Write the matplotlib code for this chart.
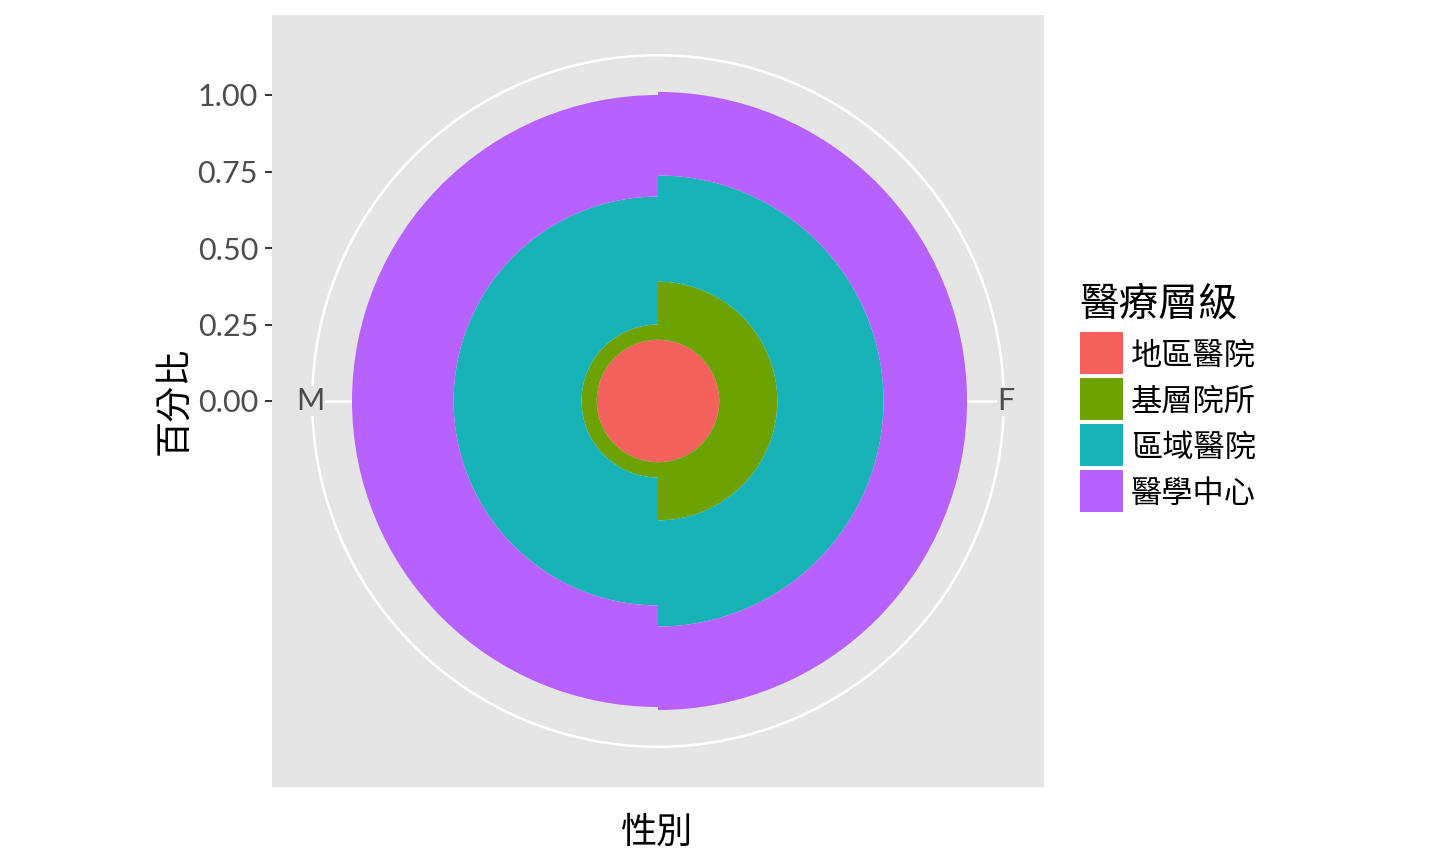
import numpy as np
import matplotlib
matplotlib.use("Agg")
import matplotlib.pyplot as plt
from matplotlib.patches import Wedge, Circle, Rectangle

# 資料
genders = ['M', 'F']
levels = ['地區醫院', '基層院所', '區域醫院', '醫學中心']
share_m = [0.200, 0.050, 0.418, 0.332]
share_f = [0.200, 0.190, 0.347, 0.273]
y_ticks = [0.00, 0.25, 0.50, 0.75, 1.00]

colors = ['#F5615D', '#6CA302', '#17B3B7', '#B761FF']
cjk = ['Noto Sans CJK TC', 'DejaVu Sans']
num_font = ['Lato', 'DejaVu Sans']

W, H = 1440, 864
fig = plt.figure(figsize=(W / 100, H / 100), dpi=100)
ax = fig.add_axes([272 / W, 77 / H, 772 / W, 772 / H])
ax.set_facecolor('#E5E5E5')
lim = 386 / 306
ax.set_xlim(-lim, lim)
ax.set_ylim(-lim, lim)
for s in ax.spines.values():
    s.set_visible(False)

# 格線（外圈與輻條）
r_outer = 1.13
ax.add_patch(Circle((0, 0), r_outer, fill=False, ec='white', lw=1.8, zorder=1))
ax.plot([-1.095, 0], [0, 0], color='white', lw=1.8, zorder=1)
ax.plot([0, 1.117], [0, 0], color='white', lw=1.8, zorder=1)

# 極座標堆疊長條
for i, (g, vals) in enumerate(zip(genders, [share_m, share_f])):
    center = 180 - 180 * i
    t1, t2 = center - 90, center + 90
    bottom = 0.0
    for v, c in zip(vals, colors):
        top = bottom + v
        w = None if bottom == 0 else top - bottom
        ax.add_patch(Wedge((0, 0), top, t1, t2, width=w, fc=c, ec='none', zorder=2))
        bottom = top
    lx = 1.137 * np.cos(np.radians(center))
    ax.text(lx, 0, g, ha='center', va='center', fontsize=22, color='#4D4D4D',
            family=num_font, zorder=3,
            bbox=dict(fc='#E5E5E5', ec='none', pad=0.5))

ax.set_xticks([])
ax.set_yticks(y_ticks)
ax.set_yticklabels(['%.2f' % t for t in y_ticks], family=num_font, fontsize=22, color='#4D4D4D')
ax.tick_params(axis='y', length=5, width=1.4, color='#333333', pad=5)

# 軸標題
fig.text(174 / W, 1 - 401 / H, '百分比', rotation=90, ha='center', va='center',
         fontsize=26, family=cjk)
fig.text(657 / W, 1 - 833 / H, '性別', ha='center', va='center', fontsize=26, family=cjk)

# 圖例
fig.text(1079 / W, 1 - 305 / H, '醫療層級', ha='left', va='center', fontsize=28.5, family=cjk)
for k, (lab, c) in enumerate(zip(levels, colors)):
    top_px = 332 + 46 * k
    fig.add_artist(Rectangle((1080 / W, 1 - (top_px + 42) / H), 43 / W, 42 / H,
                             transform=fig.transFigure, fc=c, ec='none'))
    fig.text(1131 / W, 1 - (top_px + 24) / H, lab, ha='left', va='center',
             fontsize=22.5, family=cjk)

fig.savefig('out.png', dpi=100)
